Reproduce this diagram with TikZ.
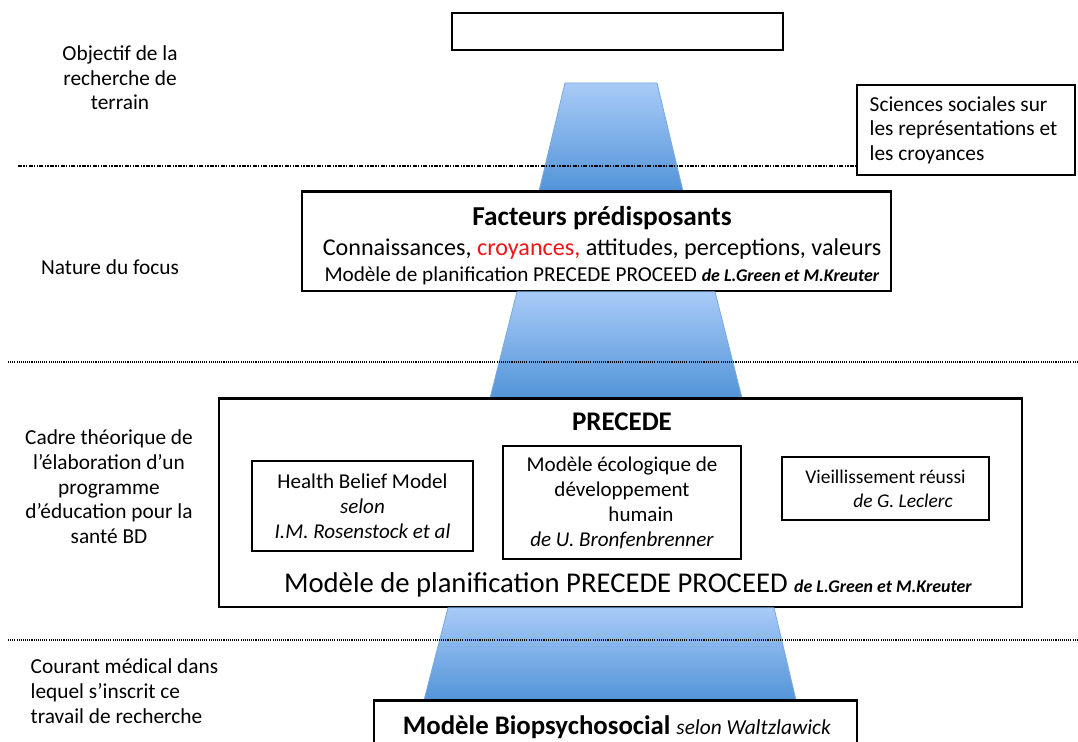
\documentclass[tikz,border=0pt]{standalone}
\usepackage{fontspec}
\setmainfont{Carlito}
\usetikzlibrary{positioning}

\definecolor{trapLight}{RGB}{168,203,247}
\definecolor{trapDark}{RGB}{82,148,216}
\definecolor{trapEdge}{RGB}{120,168,222}
\definecolor{hotRed}{RGB}{240,20,20}

\tikzset{
  box/.style={draw,line width=1.2pt,inner sep=0pt},
  txt/.style={align=center,font=\fontsize{16}{18.5}\selectfont},
  boxtxt/.style={align=center,font=\fontsize{15.8}{18.75}\selectfont},
  trap/.style={top color=trapLight,bottom color=trapDark,draw=trapEdge,line width=0.6pt},
  sepdash/.style={line width=1.1pt,dash pattern=on 3pt off 1pt on 1pt off 1pt on 1pt off 1pt},
  sepdot/.style={line width=1.1pt,dash pattern=on 0.8pt off 0.8pt},
}

\begin{document}
\begin{tikzpicture}[x=0.75pt,y=-0.75pt]

    \useasboundingbox (0,0) rectangle (1078,742);

    %draw boxes
    \node[box,minimum width=248.25pt,minimum height=27.75pt] (goal) at (617.5,31.5) {};
    \node[box,minimum width=163.5pt,minimum height=67.5pt] (sci) at (966,130) {};
    \node[box,minimum width=441.75pt,minimum height=74.25pt] (focus) at (596.5,241.5) {};
    \node[box,minimum width=602.25pt,minimum height=156pt] (precede) at (620.5,503) {};
    \node[box,minimum width=362.25pt,minimum height=37.5pt] (bio) at (615.5,726) {};

    %draw trapezoids
    \draw[trap] (565,83) -- (657,83) -- (683,0 |- focus.north) -- (539,0 |- focus.north) -- cycle;
    \draw[trap] (517,0 |- focus.south) -- (715,0 |- focus.south) -- (742,0 |- precede.north) -- (490,0 |- precede.north) -- cycle;
    \draw[trap] (448,0 |- precede.south) -- (774,0 |- precede.south) -- (796,0 |- bio.north) -- (424,0 |- bio.north) -- cycle;

    %redraw box edges on top
    \draw[line width=1.2pt] (focus.north west) -- (focus.north east);
    \draw[line width=1.2pt] (precede.north west) -- (precede.north east);
    \draw[line width=1.2pt] (bio.north west) -- (bio.north east);

    %draw separators
    \coordinate (s1) at (18,166);
    \coordinate (s2) at (8,362);
    \coordinate (s2e) at (1078,362);
    \coordinate (s3) at (8,640);
    \coordinate (s3e) at (1078,640);
    \draw[sepdash] (s1) -- (s1 -| sci.west);
    \draw[sepdot] (s2) -- (s2e);
    \draw[sepdot] (s3) -- (s3e);

    %draw left labels
    \node[txt] (objectif) at (120,78) {Objectif de la\\recherche de\\terrain};
    \node[txt] (nature) at (110,267) {Nature du focus};
    \node[txt] (cadre) at (109,487) {Cadre théorique de\\l’élaboration d’un\\programme\\d’éducation pour la\\santé BD};
    \node[txt,align=left,anchor=west] (courant) at (26,691) {Courant médical dans\\lequel s’inscrit ce\\travail de recherche};

    %draw box texts
    \node[txt,align=left,anchor=west] (scitxt) at (865,130) {Sciences sociales sur\\les représentations et\\les croyances};

    \node[anchor=base,font=\fontsize{20.5}{24}\selectfont\bfseries] (focustitle) at (602,225) {Facteurs prédisposants};
    \node[anchor=base,font=\fontsize{18.1}{22}\selectfont] (focuslist) at (602,255)
        {Connaissances, \textcolor{hotRed}{croyances,} attitudes, perceptions, valeurs};
    \node[anchor=base,font=\fontsize{15.9}{19}\selectfont] (focusmodel) at (602,281)
        {Modèle de planification PRECEDE PROCEED \textit{\bfseries\fontsize{13.4}{16}\selectfont de L.Green et M.Kreuter}};

    \node[anchor=base,font=\fontsize{20.2}{24}\selectfont\bfseries] (precedetitle) at (622,430) {PRECEDE};
    \node[box,boxtxt,minimum width=165.75pt,minimum height=67.5pt] (hbm) at (362.5,506)
        {Health Belief Model\\\textit{selon}\\\textit{I.M. Rosenstock et al}};
    \node[box,boxtxt,minimum width=178.5pt,minimum height=84.75pt] (eco) at (622,502.5)
        {Modèle écologique de\\développement\\\hspace*{1.8em}humain\\\textit{de U. Bronfenbrenner}};
    \node[box,boxtxt,font=\fontsize{14.6}{18}\selectfont,minimum width=155.25pt,minimum height=47.25pt] (leclerc) at (885.5,488.5)
        {Vieillissement réussi\\\hspace*{1.8em}\textit{de G. Leclerc}};
    \node[anchor=base,font=\fontsize{21.5}{25}\selectfont] (precedemodel) at (628,592)
        {Modèle de planification PRECEDE PROCEED \textit{\bfseries\fontsize{13.4}{16}\selectfont de L.Green et M.Kreuter}};

    \node[anchor=base,font=\fontsize{20.1}{24}\selectfont] (biotxt) at (617,734)
        {\textbf{Modèle Biopsychosocial} \textit{\fontsize{16}{19}\selectfont selon Waltzlawick}};

    \end{tikzpicture}
\end{document}
